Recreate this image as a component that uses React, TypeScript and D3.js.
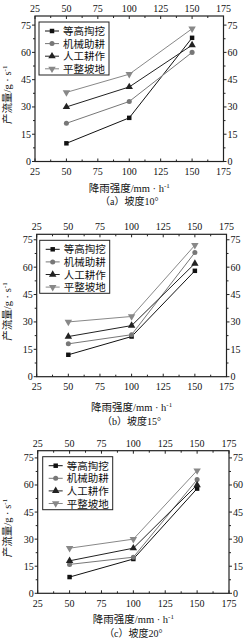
import React from "react";
import * as d3 from "d3";

// rainfall intensity (mm/h)
const rainfall = [50, 100, 150];
const seriesNames = ["等高掏挖", "机械助耕", "人工耕作", "平整坡地"];

// runoff (g/s), slope 10°
const slope10Contour = [10, 24, 68];
const slope10Machine = [21, 33, 60];
const slope10Manual = [30, 41, 64];
const slope10Flat = [38, 48, 73];

// slope 15°
const slope15Contour = [12, 22, 58];
const slope15Machine = [18, 23, 68];
const slope15Manual = [22, 28, 62];
const slope15Flat = [30, 33, 72];

// slope 20°
const slope20Contour = [9, 19, 58];
const slope20Machine = [16, 20, 63];
const slope20Manual = [18, 25, 60];
const slope20Flat = [25, 30, 68];

const xTicks = [25, 50, 75, 100, 125, 150, 175];
const yTicks = [0, 15, 30, 45, 60, 75];

const captions = ["（a）坡度10°", "（b）坡度15°", "（c）坡度20°"];

const panels = [
  { series: [slope10Contour, slope10Machine, slope10Manual, slope10Flat], left: 35, right: 223.5, top: 16, bottom: 161.5, yMax: 80, titleGap: 30, capGap: 43, lgDx: 4 },
  { series: [slope15Contour, slope15Machine, slope15Manual, slope15Flat], left: 36.7, right: 226.5, top: 234.3, bottom: 376.7, yMax: 78, titleGap: 34, capGap: 48, lgDx: 3 },
  { series: [slope20Contour, slope20Machine, slope20Manual, slope20Flat], left: 37.7, right: 229, top: 450.7, bottom: 593.3, yMax: 79, titleGap: 30, capGap: 44, lgDx: 5 },
];

const styles = [
  { color: "#111", symbol: d3.symbolSquare, size: 20, rotate: 0 },
  { color: "#777", symbol: d3.symbolCircle, size: 20, rotate: 0 },
  { color: "#222", symbol: d3.symbolTriangle, size: 24, rotate: 0 },
  { color: "#888", symbol: d3.symbolTriangle, size: 24, rotate: 180 },
];

const numFont = "'Liberation Serif', 'DejaVu Serif', serif";
const cjkFont = "'Liberation Serif', 'Noto Sans CJK SC', serif";
const axisColor = "#222";

function Panel({ p, idx }) {
  const x = d3.scaleLinear().domain([25, 175]).range([p.left, p.right]);
  const y = d3.scaleLinear().domain([0, p.yMax]).range([p.bottom, p.top]);
  const line = d3
    .line()
    .x((d) => x(d[0]))
    .y((d) => y(d[1]));
  const minorX = d3.range(37.5, 175, 25);
  const minorY = d3.range(7.5, p.yMax, 15);
  const midY = (p.top + p.bottom) / 2;
  const cx = (p.left + p.right) / 2;
  const lgX = p.left + p.lgDx;
  const lgY = p.top + 6;

  return (
    <g>
      <rect x={p.left} y={p.top} width={p.right - p.left} height={p.bottom - p.top} fill="none" stroke={axisColor} strokeWidth={1.2} />
      {/* bottom & top ticks */}
      {xTicks.map((t) => (
        <g key={"x" + t}>
          <line x1={x(t)} x2={x(t)} y1={p.bottom} y2={p.bottom - 3} stroke={axisColor} strokeWidth={1} />
          <line x1={x(t)} x2={x(t)} y1={p.top} y2={p.top + 3} stroke={axisColor} strokeWidth={1} />
          <text x={x(t)} y={p.bottom + 13.5} textAnchor="middle" fontFamily={numFont} fontSize={10} fill="#111">{t}</text>
          <text x={x(t)} y={p.top - 4} textAnchor="middle" fontFamily={numFont} fontSize={10} fill="#111">{t}</text>
        </g>
      ))}
      {minorX.map((t) => (
        <g key={"mx" + t}>
          <line x1={x(t)} x2={x(t)} y1={p.bottom} y2={p.bottom - 2} stroke={axisColor} strokeWidth={1} />
          <line x1={x(t)} x2={x(t)} y1={p.top} y2={p.top + 2} stroke={axisColor} strokeWidth={1} />
        </g>
      ))}
      {yTicks.map((t) => (
        <g key={"y" + t}>
          <line x1={p.left} x2={p.left - 3} y1={y(t)} y2={y(t)} stroke={axisColor} strokeWidth={1} />
          <line x1={p.right} x2={p.right + 3} y1={y(t)} y2={y(t)} stroke={axisColor} strokeWidth={1} />
          <text x={p.left - 4} y={y(t) + 3.5} textAnchor="end" fontFamily={numFont} fontSize={10} fill="#111">{t}</text>
          <text x={p.right + 4} y={y(t) + 3.5} textAnchor="start" fontFamily={numFont} fontSize={10} fill="#111">{t}</text>
        </g>
      ))}
      {minorY.map((t) => (
        <g key={"my" + t}>
          <line x1={p.left} x2={p.left - 2} y1={y(t)} y2={y(t)} stroke={axisColor} strokeWidth={1} />
          <line x1={p.right} x2={p.right + 2} y1={y(t)} y2={y(t)} stroke={axisColor} strokeWidth={1} />
        </g>
      ))}
      {/* series */}
      {p.series.map((vals, i) => {
        const pts = rainfall.map((r, j) => [r, vals[j]]);
        const st = styles[i];
        const sym = d3.symbol().type(st.symbol).size(st.size)();
        return (
          <g key={"s" + i}>
            <path d={line(pts)} fill="none" stroke={st.color} strokeWidth={1} />
            {pts.map((d, j) => (
              <path key={j} d={sym} fill={st.color} transform={`translate(${x(d[0])},${y(d[1])}) rotate(${st.rotate})`} />
            ))}
          </g>
        );
      })}
      {/* legend */}
      <rect x={lgX} y={lgY} width={70} height={53} fill="#fff" stroke={axisColor} strokeWidth={1} />
      {seriesNames.map((n, i) => {
        const st = styles[i];
        const ly = lgY + 9 + i * 12.6;
        const sym = d3.symbol().type(st.symbol).size(st.size)();
        return (
          <g key={"l" + i}>
            <line x1={lgX + 6} x2={lgX + 20} y1={ly} y2={ly} stroke={st.color} strokeWidth={1} />
            <path d={sym} fill={st.color} transform={`translate(${lgX + 13},${ly}) rotate(${st.rotate})`} />
            <text x={lgX + 24} y={ly + 4} fontFamily={cjkFont} fontSize={10.5} fill="#111">{n}</text>
          </g>
        );
      })}
      {/* axis titles */}
      <text x={cx} y={p.bottom + p.titleGap} textAnchor="middle" fontFamily={cjkFont} fontSize={10.5} fill="#111">
        降雨强度/mm · h<tspan dy={-4} fontSize={7}>-1</tspan>
      </text>
      <text transform={`translate(11,${midY + 6}) rotate(-90)`} textAnchor="middle" fontFamily={cjkFont} fontSize={10.5} fill="#111">
        产流量/g · s<tspan dy={-4} fontSize={7}>-1</tspan>
      </text>
      <text x={cx} y={p.bottom + p.capGap} textAnchor="middle" fontFamily={cjkFont} fontSize={10} fill="#111">
        {captions[idx]}
      </text>
    </g>
  );
}

export default function App() {
  return (
    <svg width={247} height={642} style={{ position: "absolute", left: 0, top: 0, background: "#fff" }}>
      <rect width={247} height={642} fill="#fff" />
      {panels.map((p, i) => (
        <Panel key={i} p={p} idx={i} />
      ))}
    </svg>
  );
}
